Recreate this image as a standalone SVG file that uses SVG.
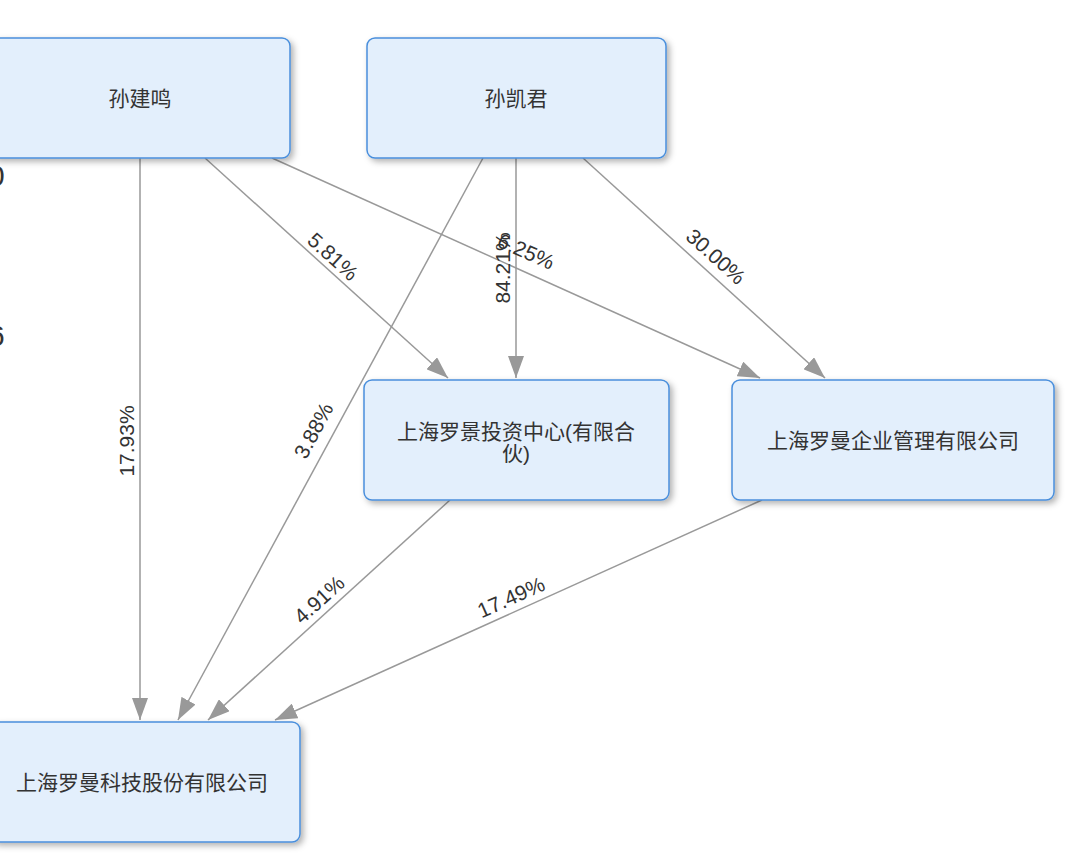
<svg xmlns="http://www.w3.org/2000/svg" width="1080" height="854" viewBox="0 0 1080 854">
<style>
.n rect{fill:#e3effc;stroke:#4a8fdc;stroke-width:1.5;filter:url(#sh)}
.n text{font-family:"Liberation Sans","Noto Sans CJK SC",sans-serif;font-size:21px;fill:#333;text-anchor:middle}
.e line{stroke:#999;stroke-width:1.5;marker-end:url(#ar)}
.e text{font-family:"Liberation Sans",sans-serif;font-size:21px;fill:#333;text-anchor:middle}
.big{font-family:"Liberation Sans",sans-serif;font-size:30px;fill:#333}
</style>
<defs>
<filter id="sh" x="-10%" y="-10%" width="130%" height="130%"><feDropShadow dx="3" dy="3" stdDeviation="3" flood-color="#000" flood-opacity="0.3"/></filter>
<marker id="ar" viewBox="0 0 22 16" refX="22" refY="8" markerWidth="22" markerHeight="16" markerUnits="userSpaceOnUse" orient="auto"><path d="M0,0L22,8L0,16z" fill="#999"/></marker>
</defs>
<rect width="1080" height="854" fill="#fff"/>
<text class="big" x="-12" y="186">0</text>
<text class="big" x="-12" y="346">6</text>
<g class="e">
<line x1="140" y1="158" x2="140" y2="720"/>
<line x1="205" y1="158" x2="448" y2="378"/>
<line x1="272" y1="158" x2="760" y2="378"/>
<line x1="483" y1="158" x2="178" y2="720"/>
<line x1="516" y1="158" x2="516" y2="378"/>
<line x1="583" y1="158" x2="825" y2="378"/>
<line x1="450" y1="500" x2="208" y2="720"/>
<line x1="762" y1="500" x2="275" y2="720"/>
<text transform="translate(134,441) rotate(-90)">17.93%</text>
<text transform="translate(328,262) rotate(42)">5.81%</text>
<text transform="translate(523,258) rotate(24)">6.25%</text>
<text transform="translate(320,434) rotate(-62)">3.88%</text>
<text transform="translate(510,268) rotate(-90)">84.21%</text>
<text transform="translate(711,262) rotate(42)">30.00%</text>
<text transform="translate(324,605) rotate(-42)">4.91%</text>
<text transform="translate(514,604) rotate(-24)">17.49%</text>
</g>
<g id="n1" class="n"><rect x="-10" y="38" width="300" height="120" rx="8"/><text x="140" y="106">孙建鸣</text></g>
<g id="n2" class="n"><rect x="367" y="38" width="299" height="120" rx="8"/><text x="516" y="106">孙凯君</text></g>
<g id="n3" class="n"><rect x="364" y="380" width="305" height="120" rx="8"/><text x="516" y="439">上海罗景投资中心(有限合</text><text x="516" y="461">伙)</text></g>
<g id="n4" class="n"><rect x="732" y="380" width="322" height="120" rx="8"/><text x="893" y="448">上海罗曼企业管理有限公司</text></g>
<g id="n5" class="n"><rect x="-10" y="722" width="310" height="120" rx="8"/><text x="142" y="790">上海罗曼科技股份有限公司</text></g>
</svg>
